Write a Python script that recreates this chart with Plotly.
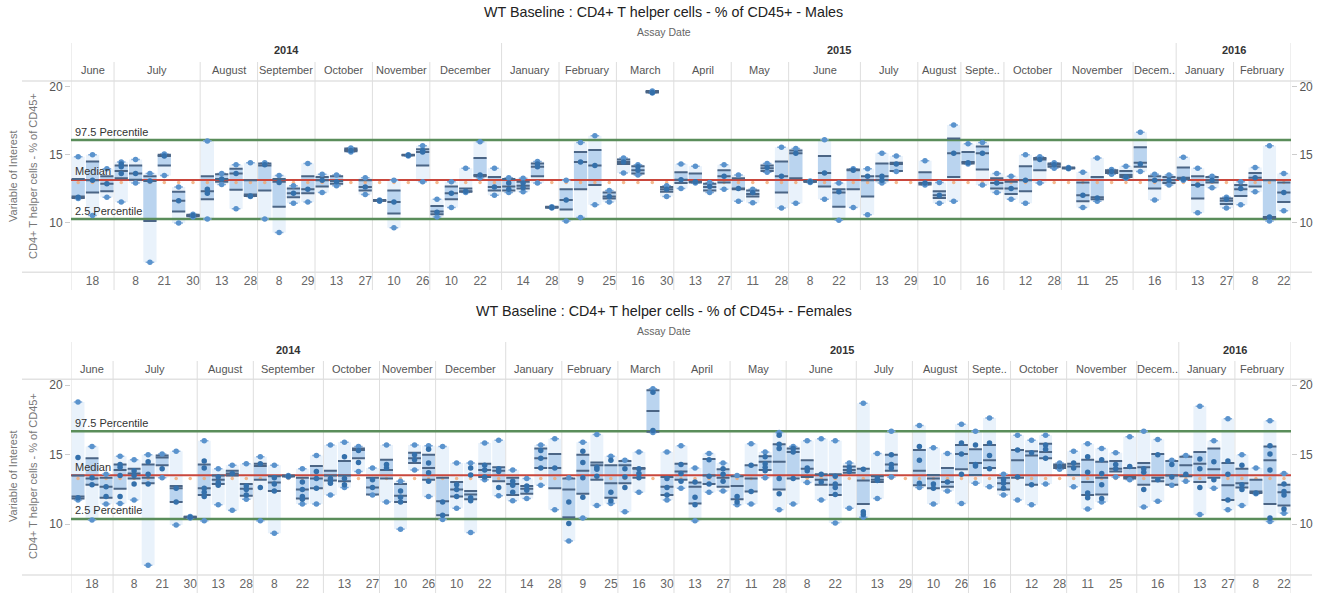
import plotly.graph_objects as go

W, H = 1327, 595

# ---------------- Males (top panel) ----------------
male_months = ["June", "July", "August", "September", "October", "November", "December",
               "January", "February", "March", "April", "May", "June", "July", "August", "Septe..",
               "October", "November", "Decem..", "January", "February"]
male_month_slots = [3, 6, 4, 4, 4, 4, 5, 4, 4, 4, 4, 4, 5, 4, 3, 3, 4, 5, 3, 4, 4]
male_years = ["2014", "2015", "2016"]
male_year_months = [7, 12, 2]
male_day_slots = [1, 4, 6, 8, 10, 12, 14, 16, 18, 20, 22, 24, 26, 28, 31, 33, 35, 37, 39, 41,
                  43, 45, 47, 49, 51, 53, 56, 58, 60, 63, 66, 68, 70, 72, 75, 78, 80, 82, 84]
male_day_labels = ["18", "8", "21", "30", "13", "28", "8", "29", "13", "27", "10", "26", "10", "22",
                   "14", "28", "9", "25", "16", "30", "13", "27", "11", "28", "8", "22", "13", "29",
                   "10", "16", "12", "28", "11", "25", "16", "13", "27", "8", "22"]

male_lo = [11.75, 10.5, 11.85, 11.5, 12.9, 7.05, 13.45, 9.95, 10.4, 10.25,
           12.8, 11.0, 11.9, 10.25, 9.25, 11.4, 11.5, 12.2, 12.7, 15.2,
           12.05, 11.55, 9.6, 14.9, 13.0, 10.4, 11.1, 12.2, 13.3, 12.0,
           12.2, 12.25, 12.9, 11.05, 10.1, 10.35, 11.3, 11.5, 13.65, 13.5,
           19.55, 11.9, 12.5, 12.9, 12.2, 12.45, 11.55, 11.45, 13.7, 11.05,
           11.4, 12.95, 11.7, 10.15, 11.1, 10.55, 12.9, 13.75, None, 12.75,
           11.4, 11.55, 14.3, 12.75, 12.2, 11.7, 11.4, 12.9, 14.0, 13.95,
           11.1, 11.55, 13.55, 13.25, 13.75, 11.65, 12.75, 13.1, 10.7, 12.55,
           11.05, 11.3, 12.25, 10.1, 10.85]
male_q1 = [11.8, 12.2, 12.3, 13.25, 13.15, 10.1, 14.2, 10.8, 10.45, 11.7,
           13.0, 12.4, 11.95, 12.35, 11.15, 11.85, 12.15, 12.65, 12.85, 15.25,
           12.35, 11.6, 10.65, 14.95, 14.2, 10.6, 11.7, 12.25, 13.4, 12.35,
           12.35, 12.5, 13.4, 11.1, 10.95, 12.45, 12.75, 11.75, 14.3, 13.6,
           19.6, 12.25, 12.9, 12.95, 12.35, 12.95, 12.45, 11.9, 13.8, 12.2,
           13.25, 13.0, 12.65, 11.15, 12.45, 11.9, 13.1, 13.8, None, 12.8,
           11.8, 13.35, 14.35, 13.9, 12.5, 12.1, 12.3, 13.85, 14.1, 14.0,
           11.55, 11.7, 13.65, 13.35, 14.1, 12.5, 12.9, 13.2, 11.75, 12.95,
           11.35, 11.95, 12.65, 10.3, 11.5]
male_med = [11.9, 13.1, 12.85, 13.8, 13.6, 13.05, 14.9, 11.6, 10.5, 12.3,
            13.2, 13.6, 12.05, 14.2, 13.0, 12.15, 12.45, 13.1, 13.05, 15.35,
            12.6, 11.6, 11.5, 14.95, 15.2, 10.8, 12.15, 12.3, 13.5, 12.6,
            12.65, 12.7, 14.1, 11.1, 11.65, 14.45, 14.2, 11.9, 14.45, 13.85,
            19.65, 12.45, 13.15, 13.0, 12.6, 13.4, 12.5, 12.1, 14.0, 13.4,
            15.1, 13.0, 13.65, 12.2, 13.85, 13.1, 13.4, 14.3, None, 12.9,
            12.0, 15.1, 14.45, 15.1, 12.9, 12.5, 13.1, 14.65, 14.25, 14.0,
            12.0, 11.85, 13.75, 13.5, 14.4, 13.1, 13.1, 13.3, 12.75, 13.1,
            11.6, 12.45, 13.3, 10.4, 12.2]
male_q3 = [13.2, 14.5, 13.4, 14.2, 14.2, 13.4, 15.0, 12.25, 10.55, 13.4,
           13.55, 13.95, 13.1, 14.35, 13.2, 12.5, 13.4, 13.35, 13.4, 15.45,
           13.1, 11.65, 12.35, 15.0, 15.4, 11.2, 12.65, 12.5, 14.75, 13.35,
           13.2, 13.0, 14.35, 11.15, 12.45, 15.2, 15.35, 12.2, 14.65, 14.15,
           19.7, 12.6, 13.7, 13.6, 12.85, 13.85, 13.25, 12.35, 14.2, 14.5,
           15.3, 13.05, 14.9, 12.45, 13.9, 13.4, 14.35, 14.4, None, 13.7,
           12.3, 16.2, 15.2, 15.6, 13.25, 13.0, 14.15, 14.75, 14.35, 14.05,
           12.95, 13.35, 13.85, 13.8, 15.55, 13.4, 13.35, 14.05, 13.4, 13.35,
           11.75, 12.75, 13.65, 13.1, 12.95]
male_hi = [14.85, 15.0, 13.95, 14.45, 14.65, 13.6, 15.05, 12.6, 10.6, 16.0,
           13.6, 14.25, 14.4, 14.4, 13.45, 12.7, 14.35, 13.55, 13.5, 15.5,
           13.3, 11.65, 13.1, 15.0, 15.65, 11.7, 13.0, 14.0, 15.95, 14.0,
           13.3, 13.25, 14.5, 11.15, 13.1, 15.9, 16.4, 12.35, 14.75, 14.25,
           19.7, 12.7, 14.3, 14.15, 12.95, 14.25, 13.5, 12.45, 14.35, 15.55,
           15.45, 13.05, 16.1, 12.9, 13.95, 13.95, 15.1, 14.9, None, 14.55,
           12.95, 17.2, 15.8, 15.9, 13.6, 13.4, 15.0, 14.85, 14.4, 14.05,
           13.7, 14.75, 13.9, 14.15, 16.65, 13.55, 13.5, 14.8, 14.0, 13.4,
           11.85, 13.0, 14.05, 15.65, 13.6]
male_pts = [[11.85], [13.1], [12.85], [14.3, 14.1, 13.6], [13.6], [13.05], [14.9], [11.6], [10.5], [12.45, 12.15],
            [13.2], [13.6], [11.95], [14.25], [12.95], [12.15], [12.45], [13.1], [13.0], [15.3],
            [12.6], [11.6], [11.5], [14.95], [15.3, 15.2], [10.75], [12.15], [12.3], [13.5], [12.6],
            [12.9, 12.45], [12.9, 12.55], [14.3, 14.1], [11.1], [11.65], [14.45], [14.2], [11.9], [14.45], [14.1, 13.85],
            [19.6], [12.45], [13.15], [13.0], [12.65], [13.4], [12.5], [12.2], [14.05], [13.4],
            [15.1], [13.0], [13.65], [12.25], [13.85], [13.4], [13.4, 13.1], [14.3], [], [12.9],
            [12.0], [15.1], [14.4], [15.1], [12.9], [12.5], [13.1], [14.65], [14.25], [14.0],
            [12.0], [11.8], [13.75], [13.35], [14.3], [13.1], [13.1], [13.2], [12.75], [13.1],
            [11.7], [12.5], [13.3], [10.4], [12.2]]
male_p975, male_median, male_p025 = 16.08, 13.13, 10.24
male_ref = 12.95

# ---------------- Females (bottom panel) ----------------
female_months = ["June", "July", "August", "September", "October", "November", "December",
                 "January", "February", "March", "April", "May", "June", "July", "August", "Septe..",
                 "October", "November", "Decem..", "January", "February"]
female_month_slots = [3, 6, 4, 5, 4, 4, 5, 4, 4, 4, 4, 4, 5, 4, 4, 3, 4, 5, 3, 4, 4]
female_years = ["2014", "2015", "2016"]
female_year_months = [7, 12, 2]
female_day_slots = [1, 4, 6, 8, 10, 12, 14, 16, 19, 21, 23, 25, 27, 29, 32, 34, 36, 38, 40, 42,
                    44, 46, 48, 50, 52, 54, 57, 59, 61, 63, 65, 68, 70, 72, 74, 77, 80, 82, 84, 86]
female_day_labels = ["18", "8", "21", "30", "13", "28", "8", "22", "13", "27", "10", "26", "10", "22",
                     "14", "28", "9", "25", "16", "30", "13", "27", "11", "28", "8", "22", "13", "29",
                     "10", "26", "16", "12", "28", "11", "25", "16", "13", "27", "8", "22"]

female_lo = [11.75, 10.3, 11.45, 11.5, 11.75, 7.05, 13.35, 9.95, 10.45, 10.25,
             11.4, 11.0, 11.8, 10.25, 9.35, 13.4, 11.45, 11.45, 12.1, 12.65,
             13.8, 12.1, 11.6, 9.65, 13.9, 12.0, 10.35, 11.15, 9.4, 13.2,
             12.05, 11.7, 11.85, 12.8, 11.05, 8.8, 10.45, 11.35, 11.5, 10.9,
             12.3, 16.6, 11.75, 12.6, 10.25, 12.3, 12.4, 11.4, 11.45, 13.35,
             11.05, 11.45, 13.0, 11.75, 10.1, 11.15, 10.5, 11.85, 13.4, None,
             12.65, 11.45, 12.4, 11.5, 12.95, 12.7, 12.1, 11.75, 11.4, 12.9,
             13.95, 12.7, 11.1, 11.6, 13.4, 13.2, 11.25, 11.65, 12.8, 13.1,
             10.7, 12.6, 11.05, 11.35, 12.2, 10.2, 10.8]
female_q1 = [11.85, 12.85, 11.9, 12.55, 13.3, 12.95, 14.25, 11.6, 10.5, 12.1,
             12.9, 13.5, 12.05, 13.2, 12.4, 13.45, 11.85, 12.6, 13.15, 13.1,
             14.75, 12.15, 13.3, 11.6, 14.4, 13.2, 10.65, 12.0, 11.8, 13.4,
             13.1, 12.1, 12.2, 14.05, 12.6, 10.5, 12.2, 13.2, 11.9, 12.95,
             13.35, 16.65, 12.1, 13.2, 11.5, 12.9, 12.7, 11.8, 12.35, 13.9,
             12.5, 13.3, 13.4, 12.85, 12.1, 13.7, 11.45, 13.05, 13.85, None,
             12.8, 12.6, 12.7, 13.95, 13.55, 14.05, 12.5, 13.35, 12.85, 14.75,
             14.05, 13.55, 12.1, 12.15, 13.8, 13.3, 12.85, 13.1, 12.85, 13.45,
             13.05, 13.35, 11.75, 12.65, 12.25, 11.45, 11.35]
female_med = [12.0, 13.3, 12.7, 13.9, 13.65, 13.35, 14.8, 12.6, 10.5, 12.6,
              13.2, 13.65, 12.55, 14.2, 13.0, 13.45, 12.5, 13.3, 13.5, 13.5,
              15.35, 12.65, 13.9, 12.05, 14.75, 14.05, 11.65, 12.5, 12.15, 13.9,
              13.85, 12.9, 12.55, 14.75, 14.05, 12.5, 13.85, 14.25, 12.95, 14.25,
              14.0, 18.15, 12.7, 13.8, 12.7, 13.5, 13.35, 12.75, 13.3, 14.5,
              14.5, 15.2, 14.0, 13.2, 12.85, 13.9, 13.15, 13.2, 14.3, None,
              13.85, 13.3, 13.05, 15.05, 14.4, 14.6, 12.95, 14.6, 14.95, 15.2,
              14.2, 14.15, 13.05, 13.35, 14.0, 13.4, 14.1, 13.35, 13.5, 14.25,
              14.35, 13.95, 12.8, 12.95, 12.35, 14.6, 12.3]
female_q3 = [13.5, 14.75, 13.35, 14.3, 14.0, 14.3, 14.95, 12.75, 10.55, 14.3,
             13.5, 13.85, 12.9, 14.35, 13.45, 13.5, 13.35, 14.2, 13.85, 14.55,
             15.45, 13.35, 14.65, 12.9, 15.15, 15.0, 13.35, 13.05, 12.4, 14.35,
             14.1, 13.35, 12.75, 15.45, 15.05, 13.3, 15.0, 14.45, 14.25, 14.55,
             14.05, 19.65, 13.4, 14.35, 13.0, 14.7, 13.95, 13.45, 14.25, 14.9,
             15.75, 15.45, 14.6, 13.6, 13.6, 14.15, 14.0, 13.45, 15.0, None,
             15.35, 13.55, 14.05, 15.7, 15.4, 15.7, 13.35, 15.35, 15.25, 15.8,
             14.3, 14.35, 14.65, 14.5, 14.55, 14.05, 14.4, 15.05, 14.55, 14.85,
             15.2, 15.45, 14.4, 14.0, 13.2, 15.6, 12.85]
female_hi = [18.8, 15.6, 13.6, 14.9, 14.65, 15.0, 15.05, 15.25, 10.55, 16.0,
             14.0, 14.25, 14.35, 14.85, 14.25, 13.5, 14.0, 14.95, 15.7, 15.9,
             15.6, 14.05, 15.7, 13.1, 15.7, 15.65, 15.6, 14.4, 14.4, 15.85,
             16.05, 13.9, 13.3, 15.7, 16.15, 13.35, 15.9, 16.45, 14.9, 14.6,
             15.2, 19.75, 15.2, 15.65, 14.05, 15.1, 14.4, 13.5, 15.8, 15.2,
             16.6, 15.6, 16.0, 16.15, 16.0, 14.4, 18.7, 15.1, 16.7, None,
             17.1, 15.5, 15.1, 17.2, 16.7, 17.65, 13.6, 16.4, 16.05, 16.4,
             14.4, 15.25, 15.8, 15.45, 15.15, 16.3, 16.7, 16.1, 14.6, 14.95,
             18.5, 16.0, 17.6, 15.0, 14.05, 17.45, 13.65]
female_pts = [[14.8, 11.9], [13.35, 12.85], [12.7, 12.0], [14.3, 14.1, 13.5, 12.0], [13.85, 13.5, 12.9],
              [14.5, 13.6, 12.9], [14.0], [12.6, 11.6], [10.5], [14.55, 14.05, 12.6, 12.3, 12.0],
              [13.4, 13.0, 12.8], [13.65], [12.75, 12.5, 12.1], [14.35, 12.65], [13.35, 12.9, 12.4],
              [13.45], [13.05, 12.5, 12.0, 11.8], [13.8, 13.3, 12.6], [13.3, 13.1, 12.95], [14.85, 13.3, 12.85],
              [14.45, 15.3], [13.2, 12.65], [14.3, 14.05], [12.4, 11.95, 11.6], [15.0, 14.65],
              [15.4, 14.4, 13.7, 13.1], [11.6, 10.65], [12.85, 12.5, 12.0], [14.05, 13.55, 11.9, 11.7], [14.25, 13.9, 13.4],
              [14.0, 13.8, 12.65], [13.1, 12.8, 12.3], [12.75, 12.45], [15.3, 14.75, 14.05], [14.05],
              [11.6, 10.05], [15.25, 14.45, 13.35, 11.95], [14.1, 13.95, 13.45], [14.6, 12.3, 11.7], [14.0, 13.4, 12.65],
              [14.0, 13.65, 13.35], [19.5, 16.75], [13.3, 12.65, 12.1], [14.3, 13.65, 13.1], [13.05, 11.95, 11.4],
              [14.65, 13.45, 12.9], [14.0, 13.6, 13.1], [12.0, 11.6], [14.25, 12.35], [14.85, 14.35, 14.1, 13.85],
              [16.4, 15.75, 15.45, 13.3, 12.2], [15.45, 15.2, 13.3], [14.05, 13.85], [13.6, 13.05], [13.45, 12.9, 12.65, 12.15],
              [14.1, 13.8], [13.95, 10.9, 10.7], [13.3, 13.15], [15.0, 14.3, 14.05], [],
              [15.6, 14.6, 12.95], [12.9, 12.6], [13.05], [15.85, 15.05, 13.6], [15.7, 14.3, 14.2],
              [15.85, 14.95, 14.0], [13.2, 12.95, 12.6], [15.35, 13.4], [15.15, 12.85], [15.7, 15.4, 14.75],
              [14.15], [14.4, 14.05], [14.85, 13.75, 12.25, 11.9], [14.65, 13.65, 12.85, 11.85], [14.3, 14.0],
              [14.15], [14.0, 13.75, 12.5], [15.0, 13.2], [14.3, 13.4], [13.6],
              [14.7, 14.0, 12.65], [14.5, 13.2], [14.55, 13.6, 11.75], [14.25, 12.85, 12.5], [12.25],
              [15.65, 15.05, 13.9, 10.45], [12.9, 12.35, 12.1, 11.1]]
female_p975, female_median, female_p025 = 16.7, 13.52, 10.38
female_ref = 13.3

# ---------------- styling ----------------
FONT = "Liberation Sans, Arial, sans-serif"
LIGHT = "#e9f2fb"
DARK = "#bad4ef"
LINE = "#4b6585"
CAP = "#86aedb"
DOT = "#5a93cd"
DOT_IN = "#3470ab"
RED = "#c9473d"
GREEN = "#5a8d5a"
SEP = "#dedede"

fig = go.Figure()


def py(p):
    return 1 - p / H


def add_panel(xa, ya, lo, q1, med, q3, hi, pts, p975, pmed, p025, ref):
    n = len(lo)
    idx = [i for i in range(n) if lo[i] is not None]
    cx = [i + 0.5 for i in idx]
    bw = 0.92
    fig.add_trace(go.Bar(x=cx, y=[hi[i] - lo[i] for i in idx], base=[lo[i] for i in idx], width=bw,
                         marker=dict(color=LIGHT, line=dict(width=0)), xaxis=xa, yaxis=ya,
                         hoverinfo="skip", showlegend=False))
    fig.add_trace(go.Bar(x=cx, y=[max(q3[i] - q1[i], 0.06) for i in idx], base=[q1[i] for i in idx], width=bw,
                         marker=dict(color=DARK, line=dict(width=0)), xaxis=xa, yaxis=ya,
                         hoverinfo="skip", showlegend=False))
    # orange reference markers
    fig.add_trace(go.Scatter(x=[i + 0.5 for i in range(n)], y=[ref] * n, mode="markers",
                             marker=dict(size=3.5, color="#f2a772", opacity=0.8),
                             xaxis=xa, yaxis=ya, hoverinfo="skip", showlegend=False))
    # reference lines
    for val, col, w in [(p975, GREEN, 2.5), (p025, GREEN, 2.5), (pmed, RED, 2)]:
        fig.add_trace(go.Scatter(x=[0, n], y=[val, val], mode="lines", line=dict(color=col, width=w),
                                 xaxis=xa, yaxis=ya, hoverinfo="skip", showlegend=False))
    # whisker caps
    sx, sy = [], []
    for i in idx:
        for v in (lo[i], hi[i]):
            sx += [i + 0.5 - 0.3, i + 0.5 + 0.3, None]
            sy += [v, v, None]
    fig.add_trace(go.Scatter(x=sx, y=sy, mode="lines", line=dict(color=CAP, width=1.5),
                             xaxis=xa, yaxis=ya, hoverinfo="skip", showlegend=False))
    # quartile / median bars
    lx, ly = [], []
    for i in idx:
        for v in (q1[i], med[i], q3[i]):
            lx += [i + 0.5 - bw / 2, i + 0.5 + bw / 2, None]
            ly += [v, v, None]
    fig.add_trace(go.Scatter(x=lx, y=ly, mode="lines", line=dict(color=LINE, width=2),
                             xaxis=xa, yaxis=ya, hoverinfo="skip", showlegend=False))
    # end points
    ex, ey = [], []
    for i in idx:
        ex += [i + 0.5, i + 0.5]
        ey += [lo[i], hi[i]]
    fig.add_trace(go.Scatter(x=ex, y=ey, mode="markers", marker=dict(size=5.5, color=DOT),
                             xaxis=xa, yaxis=ya, hoverinfo="skip", showlegend=False))
    # interior points
    ix, iy = [], []
    for i in idx:
        for v in pts[i]:
            ix.append(i + 0.5)
            iy.append(v)
    fig.add_trace(go.Scatter(x=ix, y=iy, mode="markers", marker=dict(size=5.5, color=DOT_IN),
                             xaxis=xa, yaxis=ya, hoverinfo="skip", showlegend=False))


add_panel("x", "y", male_lo, male_q1, male_med, male_q3, male_hi, male_pts,
          male_p975, male_median, male_p025, male_ref)
add_panel("x2", "y2", female_lo, female_q1, female_med, female_q3, female_hi, female_pts,
          female_p975, female_median, female_p025, female_ref)

# dummy traces to bind right-hand axes
fig.add_trace(go.Scatter(x=[None], y=[None], xaxis="x", yaxis="y3", showlegend=False))
fig.add_trace(go.Scatter(x=[None], y=[None], xaxis="x2", yaxis="y4", showlegend=False))

shapes = []
annotations = []

panels = [
    dict(xa="x", ya="y", months=male_months, mslots=male_month_slots, years=male_years,
         ymonths=male_year_months, title="WT Baseline : CD4+ T helper cells - % of CD45+ - Males",
         t_title=12, t_assay=32, t_year=50, t_month=70, t_yearline=43, t_monthline=62,
         t_head=81, t_bot=272.3, t_end=290, ycenter=176,
         labels=[(male_p975, "97.5 Percentile"), (male_median, "Median"), (male_p025, "2.5 Percentile")]),
    dict(xa="x2", ya="y2", months=female_months, mslots=female_month_slots, years=female_years,
         ymonths=female_year_months, title="WT Baseline : CD4+ T helper cells - % of CD45+ - Females",
         t_title=311, t_assay=331, t_year=350, t_month=369, t_yearline=342, t_monthline=361,
         t_head=379.3, t_bot=575, t_end=593, ycenter=476,
         labels=[(female_p975, "97.5 Percentile"), (female_median, "Median"), (female_p025, "2.5 Percentile")]),
]

for p in panels:
    xa, ya = p["xa"], p["ya"]
    xref = xa
    annotations.append(dict(x=0.5, y=py(p["t_title"]), xref="paper", yref="paper", text=p["title"],
                            showarrow=False, font=dict(size=14.3, color="#222", family=FONT),
                            xanchor="center", yanchor="middle"))
    annotations.append(dict(x=0.5, y=py(p["t_assay"]), xref="paper", yref="paper", text="Assay Date",
                            showarrow=False, font=dict(size=10.5, color="#666", family=FONT),
                            xanchor="center", yanchor="middle"))
    for t in (p["t_head"], p["t_bot"]):
        shapes.append(dict(type="line", xref="paper", yref="paper", x0=22 / W, x1=1312 / W,
                           y0=py(t), y1=py(t), line=dict(color="#e2e2e2", width=1.5), layer="below"))
    bounds = [0]
    for s in p["mslots"]:
        bounds.append(bounds[-1] + s)
    year_bounds = [0]
    k = 0
    for m in p["ymonths"]:
        k += m
        year_bounds.append(bounds[k])
    for b in bounds:
        top = p["t_yearline"] if b in year_bounds else p["t_monthline"]
        shapes.append(dict(type="line", xref=xref, yref="paper", x0=b, x1=b, y0=py(top), y1=py(p["t_end"]),
                           line=dict(color=SEP, width=1), layer="below"))
    for j, name in enumerate(p["months"]):
        annotations.append(dict(x=(bounds[j] + bounds[j + 1]) / 2, y=py(p["t_month"]), xref=xref, yref="paper",
                                text=name, showarrow=False, font=dict(size=11, color="#555", family=FONT),
                                xanchor="center", yanchor="middle"))
    for j, yname in enumerate(p["years"]):
        annotations.append(dict(x=(year_bounds[j] + year_bounds[j + 1]) / 2, y=py(p["t_year"]), xref=xref,
                                yref="paper", text="<b>" + yname + "</b>", showarrow=False,
                                font=dict(size=11, color="#333", family=FONT),
                                xanchor="center", yanchor="middle"))
    annotations.append(dict(x=13 / W, y=py(p["ycenter"]), xref="paper", yref="paper", text="Variable of Interest",
                            textangle=-90, showarrow=False, font=dict(size=11, color="#777", family=FONT),
                            xanchor="center", yanchor="middle"))
    annotations.append(dict(x=33 / W, y=py(p["ycenter"]), xref="paper", yref="paper",
                            text="CD4+ T helper cells - % of CD45+", textangle=-90, showarrow=False,
                            font=dict(size=11, color="#777", family=FONT), xanchor="center", yanchor="middle"))
    for val, txt in p["labels"]:
        annotations.append(dict(x=0, y=val, xref=xref, yref=ya, text=txt, showarrow=False,
                                font=dict(size=11, color="#333", family=FONT),
                                xanchor="left", yanchor="middle", xshift=2, yshift=8.5))

yaxis_common = dict(tickvals=[10, 15, 20], ticks="outside", ticklen=5, tickcolor="#cccccc",
                    tickfont=dict(size=12, color="#555", family=FONT), showgrid=False, zeroline=False,
                    showline=False, fixedrange=True)
xaxis_common = dict(showgrid=False, zeroline=False, showline=False, ticks="", tickmode="array",
                    tickfont=dict(size=12, color="#666", family=FONT), tickangle=0, fixedrange=True)

top_range = [6.305, 20.443]
bot_range = [6.35, 20.43]

fig.update_layout(
    width=W, height=H, margin=dict(l=0, r=0, t=0, b=0),
    paper_bgcolor="white", plot_bgcolor="white", barmode="overlay", showlegend=False,
    font=dict(family=FONT),
    xaxis=dict(domain=[71 / W, 1291 / W], range=[0, len(male_lo)], anchor="y",
               tickvals=[s + 0.5 for s in male_day_slots], ticktext=male_day_labels, **xaxis_common),
    yaxis=dict(domain=[py(272.3), py(81)], range=top_range, anchor="x", **yaxis_common),
    yaxis3=dict(overlaying="y", side="right", anchor="x", range=top_range, **yaxis_common),
    xaxis2=dict(domain=[71 / W, 1291 / W], range=[0, len(female_lo)], anchor="y2",
                tickvals=[s + 0.5 for s in female_day_slots], ticktext=female_day_labels, **xaxis_common),
    yaxis2=dict(domain=[py(575), py(379.3)], range=bot_range, anchor="x2", **yaxis_common),
    yaxis4=dict(overlaying="y2", side="right", anchor="x2", range=bot_range, **yaxis_common),
    shapes=shapes, annotations=annotations,
)

fig.write_html("out.html")
